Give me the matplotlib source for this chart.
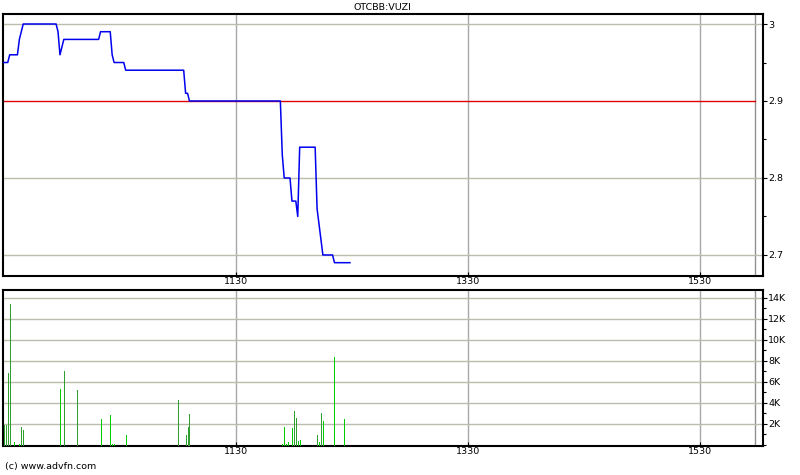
import matplotlib
matplotlib.use("Agg")
import matplotlib.pyplot as plt
from matplotlib.ticker import MultipleLocator, FixedLocator, FuncFormatter

# ---- data (minutes since 09:30) ----
price_t = [0, 2, 3, 7, 8, 10, 27, 28, 29, 31, 49, 50, 55, 56, 57, 62, 63,
           93, 94, 95, 96, 143, 144, 145, 148, 149, 151, 152, 153, 161,
           162, 164, 165, 170, 171, 179]
price_v = [2.95, 2.95, 2.96, 2.96, 2.98, 3.00, 3.00, 2.99, 2.96, 2.98, 2.98,
           2.99, 2.99, 2.96, 2.95, 2.95, 2.94, 2.94, 2.91, 2.91, 2.90, 2.90,
           2.83, 2.80, 2.80, 2.77, 2.77, 2.75, 2.84, 2.84, 2.76, 2.72, 2.70,
           2.70, 2.69, 2.69]

vol_t = [0, 1, 2, 3, 5, 8, 9, 10, 29, 31, 38, 50, 55, 56, 57, 63, 90, 94, 95,
         96, 144, 145, 146, 147, 149, 150, 151, 152, 153, 162, 163, 164, 165,
         171, 176]
vol_v = [1900, 1900, 6900, 13400, 300, 100, 1700, 1400, 5300, 7000, 5200,
         2500, 2900, 100, 100, 950, 4300, 950, 1700, 2950, 100, 1700, 100,
         300, 1650, 3250, 2550, 400, 500, 950, 300, 3050, 2300, 8400, 2500]
vol_kind = ['d', 'd', 'd', 'd', 'g', 'g', 'd', 'd', 'g', 'd', 'd', 'g', 'g',
            'g', 'g', 'g', 'd', 'd', 'd', 'd', 'g', 'g', 'g', 'g', 'g', 'd',
            'd', 'g', 'g', 'd', 'g', 'd', 'g', 'g', 'g']

prev_close = 2.90
xtick_pos = [120, 240, 360]
xtick_lab = ['1130', '1330', '1530']
price_ticks = [2.7, 2.8, 2.9, 3.0]
price_labels = ['2.7', '2.8', '2.9', '3']
vol_ticks = [2000, 4000, 6000, 8000, 10000, 12000, 14000]
close_min = 388.5
title = 'OTCBB:VUZI'

# ---- figure ----
W, H = 800, 475
fig = plt.figure(figsize=(W / 100, H / 100), dpi=100)
plt.rcParams['font.family'] = ['DejaVu Sans']

def box(l, t, r, b):
    return [l / W, 1 - b / H, (r - l) / W, (b - t) / H]

ax1 = fig.add_axes(box(2.5, 14, 762.7, 276))
ax2 = fig.add_axes(box(2.5, 290, 762.7, 446))

xmin, xmax = -0.72, 392.5
grid_h = '#bcbcac'
grid_v = '#a8a8a8'

for ax in (ax1, ax2):
    ax.set_xlim(xmin, xmax)
    ax.set_facecolor('white')
    for s in ax.spines.values():
        s.set_linewidth(1.5)
        s.set_color('black')
    ax.yaxis.tick_right()
    ax.tick_params(axis='y', which='major', length=3, width=0.8,
                   labelsize=6.8, pad=1, direction='out')
    ax.tick_params(axis='y', which='minor', length=2, width=0.8,
                   direction='out')
    ax.xaxis.set_major_locator(FixedLocator(xtick_pos))
    ax.set_xticklabels(xtick_lab)
    ax.tick_params(axis='x', length=3, width=0.8, labelsize=6.8, pad=1,
                   direction='in')
    for xp in xtick_pos:
        ax.axvline(xp, color=grid_v, lw=1, zorder=1)
    ax.axvline(close_min, color='#909090', lw=1, zorder=1)

# price panel
ax1.set_ylim(2.6727, 3.013)
ax1.yaxis.set_major_locator(FixedLocator(price_ticks))
ax1.set_yticklabels(price_labels)
ax1.yaxis.set_minor_locator(MultipleLocator(0.05))
for yv in price_ticks:
    if abs(yv - prev_close) > 1e-9:
        ax1.axhline(yv, color=grid_h, lw=1, zorder=1)
ax1.plot([xmin, close_min], [prev_close, prev_close], color='#dd0000',
         lw=1, zorder=2)
ax1.plot(price_t, price_v, color='#0000ee', lw=1.1, zorder=3)

# volume panel
ax2.set_ylim(-100, 14762)
ax2.yaxis.set_major_locator(FixedLocator(vol_ticks))
ax2.yaxis.set_major_formatter(FuncFormatter(lambda v, p: f'{int(v/1000)}K'))
ax2.yaxis.set_minor_locator(MultipleLocator(1000))
for yv in vol_ticks:
    ax2.axhline(yv, color=grid_h, lw=1, zorder=1)
col_map = {'g': '#00cc00', 'd': '#2e9e2e'}
cols = [col_map[k] for k in vol_kind]
ax2.vlines(vol_t, 0, vol_v, colors=cols, lw=0.72, zorder=3, antialiased=False)

fig.text(382 / W, 1 - 8 / H, title, ha='center', va='center', fontsize=6.8)
fig.text(5 / W, 1 - 467 / H, '(c) www.advfn.com', ha='left', va='center',
         fontsize=6.8)

fig.savefig('out.png', dpi=100)
